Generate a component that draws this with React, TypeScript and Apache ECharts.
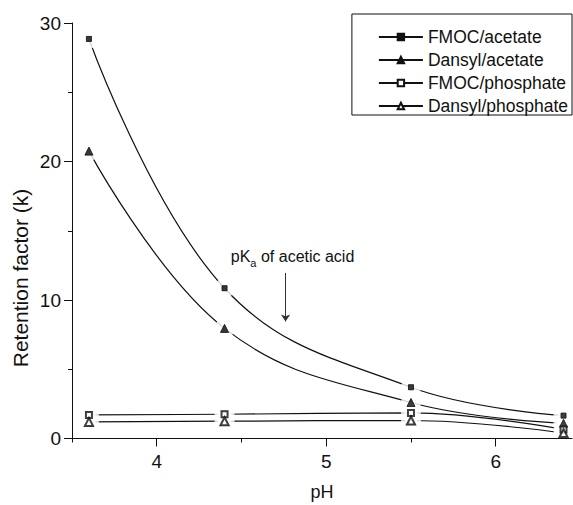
import React, { useEffect, useRef } from 'react';
import * as echarts from 'echarts';

// ---- data ----
const pH = [3.6, 4.4, 5.5, 6.4];
const fmocAcetate = [28.85, 10.85, 3.7, 1.65];
const dansylAcetate = [20.75, 7.95, 2.6, 1.1];
const fmocPhosphate = [1.7, 1.75, 1.85, 0.65];
const dansylPhosphate = [1.2, 1.25, 1.3, 0.4];
const seriesNames = ['FMOC/acetate', 'Dansyl/acetate', 'FMOC/phosphate', 'Dansyl/phosphate'];
const xMajorTicks = [4, 5, 6];
const xMinorTicks = [3.5, 4.5, 5.5];
const pKaAcetic = 4.76;
const arrowFromTo = [11.95, 8.45];
const yTitle = 'Retention factor (k)';
const xTitle = 'pH';

const FONT = '"Liberation Sans", Arial, Helvetica, sans-serif';
const INK = '#111';

export default function App() {
  const ref = useRef<HTMLDivElement>(null);

  useEffect(() => {
    if (!ref.current) return;
    const chart = echarts.init(ref.current, undefined, { renderer: 'svg' });

    const allValues = [fmocAcetate, dansylAcetate, fmocPhosphate, dansylPhosphate];
    const symbols = ['rect', 'triangle', 'emptyRect', 'emptyTriangle'];
    const sizes = [5, 8, 6, 8];

    const lineSeries: any[] = allValues.map((vals, i) => ({
      name: seriesNames[i],
      type: 'line',
      smooth: 0.4,
      data: pH.map((x, j) => [x, vals[j]]),
      symbol: symbols[i],
      symbolSize: sizes[i],
      showSymbol: true,
      lineStyle: { color: INK, width: 1.2 },
      itemStyle: { color: INK, borderColor: INK, borderWidth: 1 },
      z: 2,
      silent: true,
    }));

    lineSeries[0].markLine = {
      silent: true,
      symbol: ['none', 'arrow'],
      symbolSize: 7,
      lineStyle: { color: '#333', width: 1, type: 'solid' },
      label: {
        show: true,
        position: 'start',
        distance: 4,
        offset: [7, 0],
        formatter: '{n|pK}{s|a}{n| of acetic acid}',
        rich: {
          n: { fontSize: 16, color: INK, fontFamily: FONT },
          s: { fontSize: 11, color: INK, fontFamily: FONT, padding: [14, 0, 0, 0] },
        },
      },
      data: [[{ coord: [pKaAcetic, arrowFromTo[0]] }, { coord: [pKaAcetic, arrowFromTo[1]] }]],
    };

    const haloSeries = {
      name: 'halo',
      type: 'scatter',
      symbol: 'circle',
      symbolSize: 20,
      itemStyle: { color: '#fff' },
      data: allValues.flatMap((vals) => pH.map((x, j) => [x, vals[j]])),
      z: 3,
      silent: true,
    };

    const markerSeries = allValues.map((vals, i) => ({
      name: seriesNames[i] + ' markers',
      type: 'scatter',
      symbol: symbols[i],
      symbolSize: sizes[i],
      itemStyle: { color: INK, borderColor: INK, borderWidth: 1 },
      data: pH.map((x, j) => [x, vals[j]]),
      z: 4,
      silent: true,
    }));

    chart.setOption({
      animation: false,
      textStyle: { fontFamily: FONT, color: INK },
      grid: { left: 72, right: 1, top: 23, bottom: 66.5, outerBoundsMode: 'none' } as any,
      legend: {
        data: seriesNames,
        orient: 'vertical',
        right: 1,
        top: 14,
        itemWidth: 44,
        itemHeight: 8,
        itemGap: 5,
        padding: [14, 4, 0, 26],
        borderColor: INK,
        borderWidth: 1,
        textStyle: { fontSize: 17.5, color: INK, fontFamily: FONT },
      },
      graphic: [
        {
          type: 'text',
          x: 20,
          y: 278,
          rotation: Math.PI / 2,
          style: {
            text: yTitle,
            fontSize: 21,
            fontFamily: FONT,
            fill: INK,
            align: 'center',
            verticalAlign: 'middle',
          },
          z: 20,
        },
      ],
      xAxis: [
        {
          type: 'value',
          min: 3.5,
          max: 6.45,
          position: 'bottom',
          axisLine: { show: true, lineStyle: { color: INK, width: 1 } },
          axisTick: { show: true, length: 8, customValues: xMajorTicks, lineStyle: { color: INK } },
          axisLabel: { show: true, customValues: xMajorTicks, fontSize: 19, color: INK, margin: 13, fontFamily: FONT },
          splitLine: { show: false },
          name: xTitle,
          nameLocation: 'middle',
          nameGap: 44,
          nameTextStyle: { fontSize: 18, color: INK, fontFamily: FONT },
          z: 10,
        },
        {
          type: 'value',
          min: 3.5,
          max: 6.45,
          position: 'bottom',
          axisLine: { show: false },
          axisTick: { show: true, length: 4, customValues: xMinorTicks, lineStyle: { color: INK } },
          axisLabel: { show: false },
          splitLine: { show: false },
          z: 10,
        },
      ],
      yAxis: {
        type: 'value',
        min: 0,
        max: 30,
        interval: 10,
        axisLine: { show: true, lineStyle: { color: INK, width: 1 } },
        axisTick: { show: true, length: 8, lineStyle: { color: INK } },
        minorTick: { show: true, splitNumber: 2, length: 4, lineStyle: { color: INK } },
        splitLine: { show: false },
        minorSplitLine: { show: false },
        axisLabel: { fontSize: 19, color: INK, margin: 11, fontFamily: FONT },
        z: 10,
      },
      series: [...lineSeries, haloSeries, ...markerSeries],
    });

    return () => chart.dispose();
  }, []);

  return (
    <div
      ref={ref}
      style={{ position: 'absolute', left: 0, top: 0, width: 573, height: 505, background: '#fff' }}
    />
  );
}
